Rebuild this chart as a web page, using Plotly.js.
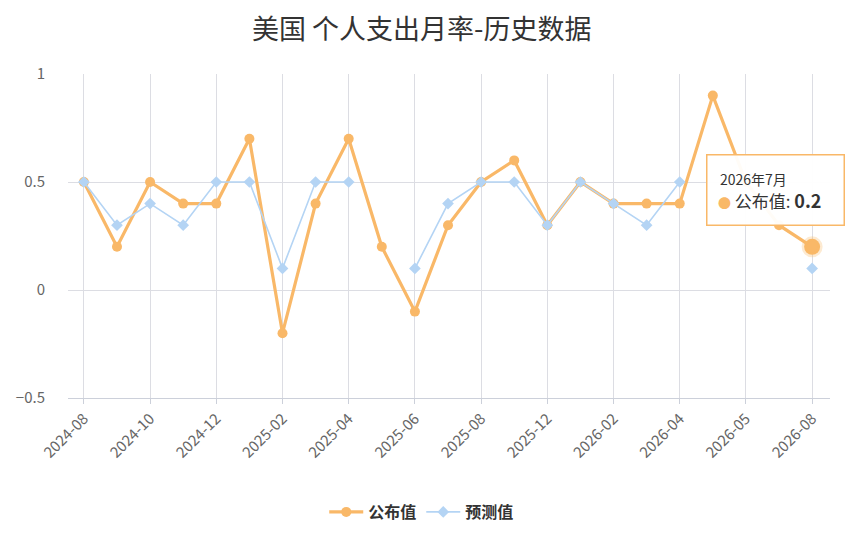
<!DOCTYPE html>
<html>
<head>
<meta charset="utf-8">
<script src="https://cdn.plot.ly/plotly-3.0.1.min.js"></script>
<style>
  html, body { margin: 0; padding: 0; background: #fff; }
  #chart { width: 852px; height: 555px; }
</style>
</head>
<body>
<div id="chart"></div>
<script>
// release months (x axis), every second one is labelled
const months = [
  "2024-08", "2024-09", "2024-10", "2024-11", "2024-12", "2025-01", "2025-02", "2025-03",
  "2025-04", "2025-05", "2025-06", "2025-07", "2025-08", "2025-09", "2025-12", "2026-01",
  "2026-02", "2026-03", "2026-04", "2026-04", "2026-05", "2026-07", "2026-08"
];
const published = [0.5, 0.2, 0.5, 0.4, 0.4, 0.7, -0.2, 0.4, 0.7, 0.2, -0.1, 0.3,
                   0.5, 0.6, 0.3, 0.5, 0.4, 0.4, 0.4, 0.9, 0.5, 0.3, 0.2];
const forecast = [0.5, 0.3, 0.4, 0.3, 0.5, 0.5, 0.1, 0.5, 0.5, null, 0.1, 0.4,
                  0.5, 0.5, 0.3, 0.5, 0.4, 0.3, 0.5, null, null, null, 0.1];
const yTicks = [-0.5, 0, 0.5, 1];
const hoverLabel = "2026年7月";

const ORANGE = "#f9b868";
const BLUE = "#b4d4f4";
const FONT = '"Noto Sans CJK SC", "Noto Sans", sans-serif';

const idx = months.map((m, i) => i);
const tickIdx = idx.filter(i => i % 2 === 0);
const last = idx.length - 1;

const traces = [
  {
    x: idx, y: published, name: "公布值", type: "scatter", mode: "lines+markers",
    line: { color: ORANGE, width: 3.2 },
    marker: { color: ORANGE, size: 10, symbol: "circle" },
    connectgaps: false
  },
  {
    x: idx, y: forecast, name: "预测值", type: "scatter", mode: "lines+markers",
    line: { color: BLUE, width: 1.6 },
    marker: { color: BLUE, size: 9, symbol: "diamond" },
    connectgaps: false
  },
  {
    // hovered point
    x: [last], y: [published[last]], type: "scatter", mode: "markers", showlegend: false,
    marker: { color: ORANGE, size: 16, line: { color: "rgba(249,184,104,0.3)", width: 5 } },
    hoverinfo: "skip"
  }
];

// tooltip pieces, placed relative to the hovered point
const tip = { x: last, y: published[last], xref: "x", yref: "y", showarrow: false };

const layout = {
  width: 852, height: 555,
  margin: { l: 68, r: 22, t: 74, b: 157 },
  paper_bgcolor: "#fff", plot_bgcolor: "#fff",
  font: { family: FONT, color: "#666", size: 14 },
  title: {
    text: "美国 个人支出月率-历史数据",
    font: { family: FONT, size: 27, color: "#333" },
    x: 0.495, xanchor: "center", y: 0.946, yanchor: "middle", yref: "container"
  },
  xaxis: {
    range: [-0.48, 22.54],
    tickvals: tickIdx, ticktext: tickIdx.map(i => months[i]),
    tickangle: -45, tickfont: { size: 15, color: "#666" },
    showgrid: true, gridcolor: "#dcdde3", gridwidth: 1,
    showline: true, linecolor: "#ccd0da", linewidth: 1,
    ticks: "outside", ticklen: 5, tickcolor: "#ccd0da",
    zeroline: false, fixedrange: true
  },
  yaxis: {
    range: [-0.5, 1], tickvals: yTicks, ticktext: yTicks.map(v => v < 0 ? "\u2212" + Math.abs(v) : String(v)),
    tickfont: { size: 15, color: "#666" },
    showgrid: true, gridcolor: "#dcdde3", gridwidth: 1,
    zeroline: false, showline: false, ticks: "", ticklabelstandoff: 22,
    fixedrange: true
  },
  showlegend: true,
  legend: {
    orientation: "h", xref: "container", yref: "container",
    x: 0.495, xanchor: "center", y: 1 - 512 / 555, yanchor: "middle",
    font: { family: FONT, size: 16, color: "#333", weight: "bold" },
    itemwidth: 34, tracegroupgap: 0
  },
  annotations: [
    Object.assign({}, tip, {
      xanchor: "left", yanchor: "top", xshift: -106, yshift: 93,
      width: 136, height: 69, borderpad: 0, text: " ",
      bgcolor: "rgba(255,255,255,0.95)", bordercolor: ORANGE, borderwidth: 1.5
    }),
    Object.assign({}, tip, {
      xanchor: "left", yanchor: "middle", xshift: -94, yshift: 68,
      text: hoverLabel, font: { family: FONT, size: 14, color: "#333" }
    }),
    Object.assign({}, tip, {
      xanchor: "left", yanchor: "middle", xshift: -96, yshift: 47,
      text: "<span style='color:" + ORANGE + ";font-size:13px'>●</span> 公布值: <b style='font-size:18px'>" +
            published[last] + "</b>",
      font: { family: FONT, size: 17, color: "#333" }
    })
  ]
};

Plotly.newPlot("chart", traces, layout, { displayModeBar: false, staticPlot: true });
</script>
</body>
</html>
